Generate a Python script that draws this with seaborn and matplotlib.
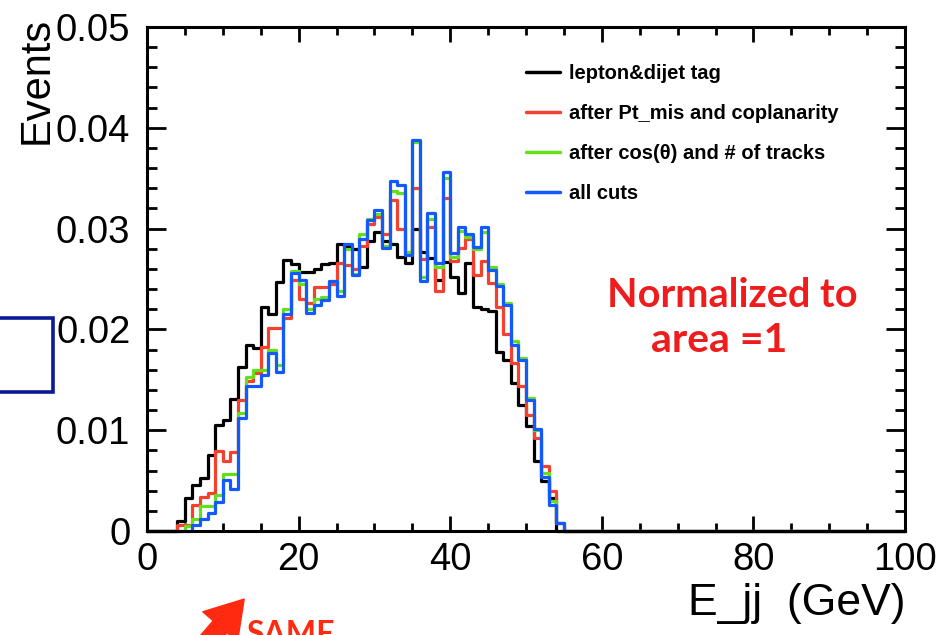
import numpy as np
import pandas as pd
import seaborn as sns
import matplotlib
matplotlib.use("Agg")
import matplotlib.pyplot as plt
from matplotlib.lines import Line2D
from matplotlib.patches import Rectangle

# E_jj histograms, 1 GeV bins from 0 to 100, normalized to area 1
# values below are for the bins 4..54 GeV, every other bin is empty
first_bin = 4
lepton_dijet = [0.0010, 0.0033, 0.0046, 0.0053, 0.0075, 0.0105, 0.0110, 0.0131, 0.0163, 0.0185,
                0.0182, 0.0222, 0.0215, 0.0247, 0.0269, 0.0265, 0.0257, 0.0257, 0.0260, 0.0265,
                0.0266, 0.0285, 0.0282, 0.0280, 0.0262, 0.0288, 0.0297, 0.0288, 0.0285, 0.0272,
                0.0266, 0.0300, 0.0277, 0.0271, 0.0249, 0.0267, 0.0252, 0.0236, 0.0266, 0.0222,
                0.0220, 0.0218, 0.0178, 0.0170, 0.0147, 0.0125, 0.0104, 0.0069, 0.0050, 0.0033,
                0.0000]
after_ptmis = [0.0006, 0.0006, 0.0026, 0.0034, 0.0038, 0.0079, 0.0069, 0.0078, 0.0130, 0.0149,
               0.0157, 0.0183, 0.0201, 0.0201, 0.0211, 0.0249, 0.0230, 0.0226, 0.0242, 0.0242,
               0.0245, 0.0266, 0.0264, 0.0260, 0.0283, 0.0305, 0.0312, 0.0295, 0.0328, 0.0300,
               0.0275, 0.0340, 0.0270, 0.0302, 0.0238, 0.0330, 0.0268, 0.0281, 0.0290, 0.0254,
               0.0268, 0.0246, 0.0222, 0.0195, 0.0167, 0.0144, 0.0115, 0.0092, 0.0064, 0.0040,
               0.0008]
after_cos = [0.0000, 0.0005, 0.0012, 0.0025, 0.0025, 0.0036, 0.0057, 0.0057, 0.0117, 0.0153,
             0.0160, 0.0160, 0.0180, 0.0165, 0.0220, 0.0258, 0.0245, 0.0220, 0.0230, 0.0232,
             0.0248, 0.0238, 0.0280, 0.0255, 0.0295, 0.0310, 0.0314, 0.0283, 0.0337, 0.0335,
             0.0277, 0.0386, 0.0252, 0.0310, 0.0262, 0.0350, 0.0272, 0.0298, 0.0292, 0.0280,
             0.0297, 0.0262, 0.0245, 0.0226, 0.0188, 0.0172, 0.0132, 0.0100, 0.0058, 0.0030,
             0.0008]
all_cuts = [0.0000, 0.0000, 0.0006, 0.0012, 0.0018, 0.0029, 0.0051, 0.0042, 0.0112, 0.0144,
            0.0144, 0.0155, 0.0177, 0.0158, 0.0215, 0.0256, 0.0249, 0.0216, 0.0224, 0.0229,
            0.0248, 0.0233, 0.0285, 0.0254, 0.0290, 0.0309, 0.0318, 0.0281, 0.0347, 0.0343,
            0.0274, 0.0388, 0.0248, 0.0315, 0.0266, 0.0356, 0.0276, 0.0302, 0.0295, 0.0282,
            0.0302, 0.0259, 0.0243, 0.0224, 0.0185, 0.0170, 0.0130, 0.0101, 0.0054, 0.0026,
            0.0008]

labels = ["lepton&dijet tag", "after Pt_mis and coplanarity",
          "after cos(\u03b8) and # of tracks", "all cuts"]
colors = ["#000000", "#f5402e", "#62e01c", "#1259ff"]

centers = np.arange(100) + 0.5

sns.set_style("ticks")
plt.rcParams['font.family'] = ['Liberation Sans', 'DejaVu Sans']
plt.rcParams['text.color'] = 'black'
plt.rcParams['xtick.color'] = 'black'
plt.rcParams['ytick.color'] = 'black'

fig = plt.figure(figsize=(9.43, 6.35), dpi=100)
ax = fig.add_axes([147/943, 1-531/635, (905-147)/943, (531-27)/635])

for vals, col in zip([lepton_dijet, after_ptmis, after_cos, all_cuts], colors):
    w = np.zeros(100)
    w[first_bin:first_bin+len(vals)] = vals
    df = pd.DataFrame({"E_jj": centers, "w": w})
    sns.histplot(data=df, x="E_jj", weights="w", binwidth=1, binrange=(0, 100),
                 element="step", fill=False, color=col, linewidth=2.3, ax=ax)

for ln in ax.lines:
    ln.set_clip_on(False)

ax.set_xlim(0, 100)
ax.set_ylim(0, 0.05)
ax.set_xlabel("")
ax.set_ylabel("")
ax.set_xticks([0, 20, 40, 60, 80, 100])
ax.set_xticks(np.arange(0, 101, 5), minor=True)
ax.set_yticks([0, 0.01, 0.02, 0.03, 0.04, 0.05])
ax.set_yticklabels(["0", "0.01", "0.02", "0.03", "0.04", "0.05"])
ax.set_yticks(np.arange(0, 0.0501, 0.002), minor=True)
ax.tick_params(which="both", direction="in", top=True, right=True, width=2, labelsize=27.5)
ax.tick_params(axis="y", which="major", length=14, pad=12)
ax.tick_params(axis="y", which="minor", length=7)
ax.tick_params(axis="x", which="major", length=11, pad=8)
ax.tick_params(axis="x", which="minor", length=6)
for s in ax.spines.values():
    s.set_linewidth(2.2)
    s.set_color("black")
    s.set_visible(True)

handles = [Line2D([0], [0], color=c, lw=2.5) for c in colors]
ax.legend(handles, labels, loc="upper left", bbox_to_anchor=(526/943, 1-64/635),
          bbox_transform=fig.transFigure, frameon=False, borderpad=0, borderaxespad=0,
          handlelength=1.7, handletextpad=0.45, labelspacing=1.05,
          prop={"weight": "bold", "size": 14.5})

fig.text(37/943, 1-17/635, "Events", rotation=90, ha="center", va="top", fontsize=30)
fig.text(905/943, 1-624/635, "E_jj  (GeV)", ha="right", va="bottom", fontsize=32)

# red note on the slide
fig.text(732/943, 1-295/635, "Normalized to", color="#ee1c1c", fontsize=28.5,
         fontweight="bold", family="Lato", ha="center", va="center")
fig.text(719/943, 1-341/635, "area =1", color="#ee1c1c", fontsize=29.5,
         fontweight="bold", family="Lato", ha="center", va="center")

fig.patches.append(Rectangle((-10/943, 1-392/635), 63/943, 74/635, transform=fig.transFigure,
                             fill=False, edgecolor="#0b1a93", linewidth=2.6))
ax.annotate("", xy=(246/943, 1-597/635), xytext=(200/943, 1-650/635),
            xycoords="figure fraction", textcoords="figure fraction",
            arrowprops=dict(arrowstyle="simple,head_width=1.5,head_length=1.2,tail_width=0.6",
                            color="#ff2a10", mutation_scale=22))
fig.text(246/943, 1-620/635, "SAME", color="#ff2a10", fontsize=23, fontweight="bold",
         family="Lato", ha="left", va="top")

fig.savefig("out.png", dpi=100)
